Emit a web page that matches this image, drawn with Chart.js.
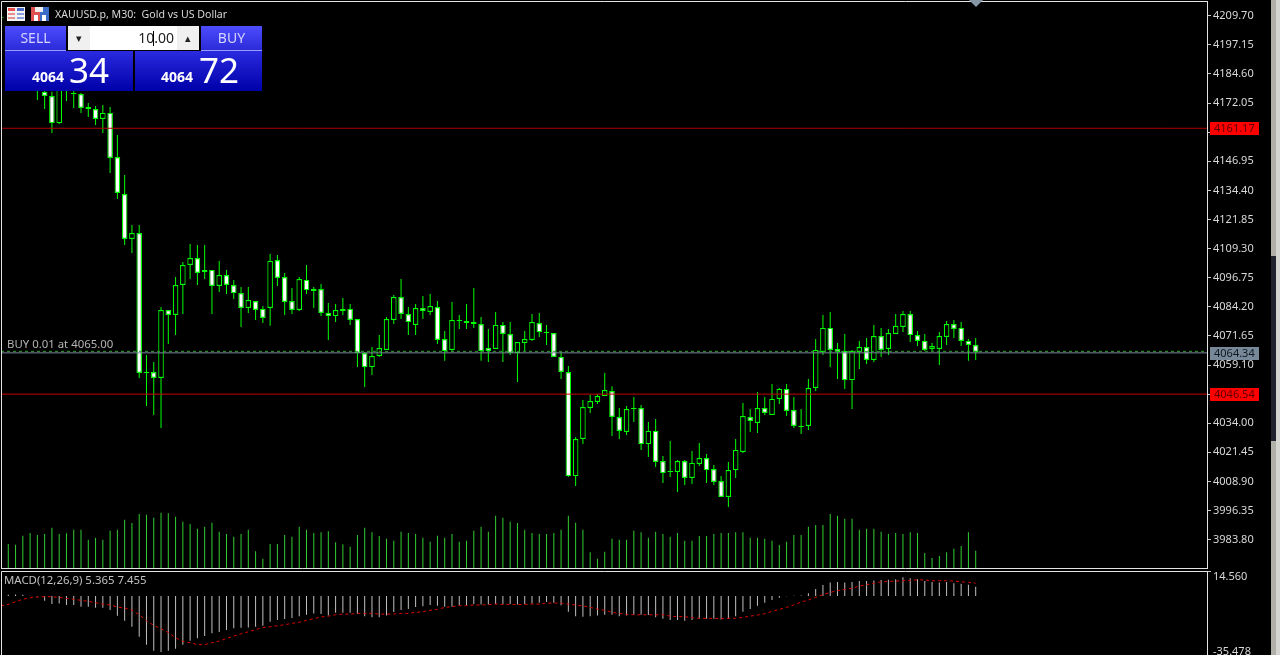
<!DOCTYPE html>
<html>
<head>
<meta charset="utf-8">
<title>XAUUSD.p, M30</title>
<script src="https://cdn.jsdelivr.net/npm/chart.js@4"></script>
<style>
html, body { margin: 0; padding: 0; background: #000; width: 1280px; height: 655px; overflow: hidden; }
body, div { font-family: "Noto Sans", sans-serif; }
canvas { position: absolute; left: 0; display: block; }
#mainChart { top: 0; }
#macdChart { top: 570px; }
.box { position: absolute; box-sizing: border-box; }
.title { left: 55px; top: 6px; font-size: 10.6px; color: #d8d8d8; white-space: pre; line-height: 16px; }
.macd-title { left: 4px; top: 572px; font-size: 11.4px; color: #c0c0c0; white-space: pre; line-height: 16px; }
.top-btn { top: 26px; width: 61px; height: 25px; background: linear-gradient(#4d4dff, #2b2bd8); color: #d4d4ff; font-size: 14px; text-align: center; line-height: 23px; border-bottom: 1px solid #9a9aff; }
.quote { top: 51px; height: 40px; background: linear-gradient(#2a2ae0, #0000a8); color: #fff; }
.quote .small { position: absolute; top: 17px; font-size: 14px; font-weight: bold; line-height: 18px; }
.quote .big { position: absolute; top: 0; font-size: 35px; line-height: 38px; }
.lot { left: 68px; top: 26px; width: 131px; height: 24px; background: #fff; }
.lot .arrow { position: absolute; top: 0; width: 22px; height: 24px; background: #f0f0f0; color: #222; font-size: 11px; line-height: 23px; text-align: center; }
.lot .val { position: absolute; right: 25px; top: 0; font-size: 14px; line-height: 24px; color: #222; }
.lot .caret { position: absolute; left: 85px; top: 5px; width: 1px; height: 15px; background: #000; }
</style>
</head>
<body>
<canvas id="mainChart" width="1280" height="570"></canvas>
<canvas id="macdChart" width="1280" height="87"></canvas>

<svg class="box" style="left:7px;top:7px" width="18" height="14" viewBox="0 0 18 14">
  <rect width="18" height="14" fill="#f4f4f4"/>
  <rect x="1" y="1" width="7" height="3" fill="#e85050"/><rect x="10" y="1" width="7" height="3" fill="#4a6cc8"/>
  <rect x="1" y="6" width="7" height="2" fill="#e89090"/><rect x="10" y="6" width="7" height="2" fill="#88a0dd"/>
  <rect x="1" y="10" width="7" height="2" fill="#e89090"/><rect x="10" y="10" width="7" height="2" fill="#88a0dd"/>
</svg>
<svg class="box" style="left:31px;top:7px" width="18" height="14" viewBox="0 0 18 14">
  <rect width="9" height="14" fill="#e05050"/><rect x="9" width="9" height="14" fill="#3a6cc8"/>
  <rect x="4" y="0" width="8" height="5" fill="#f0f0f0"/><rect x="3" y="8" width="4" height="6" fill="#fff"/><rect x="11" y="8" width="4" height="6" fill="#fff"/>
</svg>
<div class="box title">XAUUSD.p, M30:  Gold vs US Dollar</div>

<div class="box top-btn" style="left:5px">SELL</div>
<div class="box top-btn" style="left:201px">BUY</div>
<div class="box lot">
  <div class="arrow" style="left:0">&#9662;</div>
  <div class="val">10.00</div>
  <div class="caret"></div>
  <div class="arrow" style="right:0">&#9652;</div>
</div>
<div class="box quote" style="left:5px;width:128px">
  <span class="small" style="left:27px">4064</span><span class="big" style="left:64px">34</span>
</div>
<div class="box quote" style="left:135px;width:127px">
  <span class="small" style="left:26px">4064</span><span class="big" style="left:64px">72</span>
</div>
<div class="box macd-title">MACD(12,26,9) 5.365 7.455</div>

<svg class="box" style="left:969px;top:0" width="14" height="8"><polygon points="0,0 14,0 7,7" fill="#8796a6"/></svg>

<div class="box" style="left:1271px;top:0;width:5px;height:655px;background:#b0b0a8"></div>
<div class="box" style="left:1276px;top:0;width:4px;height:655px;background:#d4d4d0"></div>
<div class="box" style="left:1271px;top:256px;width:5px;height:185px;background:#22222e"></div>

<script>
// M30 candles. The first few sit behind the trade panel, so those are guesses
const opens = [
    4209.0, 4192.0, 4188.0, 4190.0, 4185.0, 4183.0, 4176.9, 4175.1, 4163.4, 4178.0,
    4176.4, 4175.9, 4170.3, 4169.5, 4165.2, 4167.8, 4148.8, 4132.8, 4113.4, 4116.0,
    4056.1, 4056.1, 4053.5, 4082.8, 4080.7, 4093.6, 4102.2, 4105.2, 4100.1, 4100.1,
    4093.2, 4097.9, 4093.6, 4090.1, 4083.7, 4086.7, 4083.3, 4083.7, 4104.4, 4097.0,
    4086.7, 4082.8, 4095.8, 4091.9, 4091.9, 4081.5, 4080.2, 4083.3, 4083.3, 4078.9,
    4064.3, 4058.2, 4063.0, 4065.6, 4078.5, 4088.4, 4081.1, 4076.4, 4083.7, 4082.0,
    4084.1, 4070.3, 4065.6, 4078.5, 4078.1, 4077.6, 4076.8, 4066.4, 4066.0, 4076.4,
    4072.5, 4064.3, 4068.6, 4069.9, 4077.2, 4073.3, 4072.9, 4062.6, 4056.1, 4011.2,
    4027.2, 4040.6, 4043.2, 4045.7, 4047.9, 4036.7, 4030.2, 4040.6, 4040.6, 4025.0,
    4030.7, 4017.7, 4013.4, 4013.0, 4017.7, 4010.4, 4016.4, 4019.0, 4014.3, 4009.1,
    4002.2, 4013.8, 4021.6, 4036.7, 4034.1, 4040.6, 4037.6, 4044.5, 4048.8, 4039.7,
    4032.8, 4032.8, 4049.2, 4064.7, 4075.1, 4066.0, 4065.1, 4052.6, 4064.7, 4066.9,
    4061.3, 4071.6, 4066.0, 4072.5, 4075.5, 4081.1, 4072.0, 4069.5, 4066.0, 4066.0,
    4071.2, 4076.8, 4075.1, 4069.5, 4067.7
];
const highs = [
    4210.9, 4196.0, 4193.0, 4194.0, 4190.0, 4186.0, 4182.0, 4176.9, 4181.0, 4184.0,
    4178.0, 4176.4, 4172.1, 4170.8, 4171.2, 4170.3, 4158.3, 4141.0, 4119.5, 4119.5,
    4063.4, 4060.4, 4084.1, 4082.8, 4097.0, 4103.5, 4111.3, 4110.8, 4110.8, 4100.1,
    4104.0, 4100.1, 4095.8, 4092.7, 4092.7, 4086.7, 4084.5, 4107.0, 4106.5, 4098.8,
    4092.3, 4097.0, 4102.2, 4092.7, 4094.0, 4085.8, 4085.4, 4088.0, 4085.4, 4078.9,
    4064.7, 4066.9, 4072.0, 4079.8, 4089.3, 4096.2, 4084.1, 4085.4, 4088.9, 4089.7,
    4086.7, 4073.8, 4086.3, 4080.7, 4085.4, 4092.3, 4079.8, 4074.6, 4082.0, 4077.6,
    4077.6, 4069.0, 4073.8, 4081.1, 4081.5, 4076.4, 4072.9, 4064.7, 4058.7, 4028.1,
    4044.0, 4046.2, 4046.6, 4055.7, 4050.0, 4040.6, 4041.4, 4045.3, 4041.9, 4034.5,
    4035.8, 4019.9, 4026.3, 4018.2, 4018.2, 4022.0, 4025.5, 4020.7, 4016.0, 4011.2,
    4017.3, 4027.2, 4042.7, 4040.1, 4047.5, 4045.3, 4050.9, 4049.2, 4050.9, 4045.3,
    4040.1, 4053.1, 4070.3, 4080.7, 4082.0, 4068.6, 4072.5, 4065.6, 4069.5, 4070.8,
    4076.4, 4075.1, 4074.6, 4081.1, 4082.4, 4082.4, 4073.8, 4072.5, 4068.6, 4073.3,
    4078.1, 4078.5, 4077.6, 4070.3, 4070.8
];
const lows = [
    4206.6, 4186.0, 4184.0, 4183.0, 4181.0, 4173.4, 4169.5, 4159.1, 4163.0, 4172.9,
    4169.9, 4167.8, 4166.0, 4162.6, 4159.1, 4141.9, 4130.7, 4110.8, 4107.4, 4053.5,
    4041.4, 4037.6, 4032.0, 4068.2, 4072.0, 4081.1, 4096.2, 4093.6, 4096.2, 4081.1,
    4090.6, 4089.7, 4087.6, 4075.5, 4081.5, 4078.5, 4077.2, 4076.0, 4093.2, 4080.7,
    4081.1, 4082.4, 4089.7, 4083.7, 4080.2, 4069.9, 4077.6, 4080.7, 4076.4, 4058.2,
    4049.6, 4054.8, 4062.6, 4065.6, 4076.8, 4078.9, 4072.0, 4072.0, 4078.9, 4080.7,
    4068.2, 4060.9, 4064.7, 4074.6, 4074.6, 4075.1, 4060.9, 4060.4, 4066.0, 4060.4,
    4063.4, 4051.8, 4065.1, 4069.5, 4071.2, 4067.7, 4062.6, 4053.1, 4010.8, 4006.9,
    4025.0, 4038.4, 4042.3, 4045.7, 4028.5, 4027.2, 4028.9, 4034.5, 4022.5, 4019.4,
    4015.1, 4008.2, 4010.8, 4004.4, 4007.4, 4007.8, 4015.6, 4008.2, 4007.4, 4002.2,
    3997.9, 4010.4, 4021.2, 4030.2, 4029.8, 4037.6, 4037.6, 4042.3, 4037.1, 4032.0,
    4029.4, 4031.1, 4047.9, 4063.4, 4058.2, 4053.1, 4048.8, 4040.1, 4057.4, 4059.5,
    4060.4, 4062.6, 4063.4, 4072.5, 4073.3, 4069.0, 4067.3, 4065.1, 4065.1, 4059.1,
    4067.7, 4070.8, 4067.3, 4060.9, 4061.3
];
const closes = [
    4208.6, 4188.0, 4190.0, 4185.0, 4183.0, 4180.0, 4175.1, 4163.4, 4178.0, 4181.0,
    4175.9, 4169.9, 4169.5, 4165.2, 4167.8, 4148.4, 4133.3, 4113.4, 4116.0, 4055.7,
    4055.7, 4053.5, 4082.8, 4080.7, 4093.6, 4102.2, 4105.2, 4098.8, 4099.2, 4093.2,
    4097.9, 4093.6, 4090.1, 4083.7, 4087.1, 4082.8, 4079.4, 4104.0, 4096.6, 4086.3,
    4082.8, 4096.2, 4091.4, 4091.0, 4081.5, 4080.2, 4082.8, 4082.4, 4078.5, 4064.3,
    4058.2, 4063.0, 4066.4, 4078.9, 4088.4, 4081.1, 4077.6, 4083.7, 4082.4, 4084.5,
    4069.9, 4065.1, 4078.5, 4078.1, 4077.2, 4076.8, 4065.1, 4065.1, 4076.4, 4072.5,
    4064.3, 4069.0, 4070.3, 4077.6, 4073.3, 4072.9, 4062.6, 4056.1, 4011.2, 4027.2,
    4041.0, 4043.6, 4045.7, 4048.3, 4036.7, 4030.7, 4040.1, 4040.1, 4025.0, 4030.7,
    4017.3, 4012.5, 4013.0, 4017.7, 4010.4, 4016.9, 4019.0, 4013.8, 4008.7, 4002.2,
    4013.8, 4022.5, 4037.1, 4035.0, 4040.6, 4038.4, 4044.5, 4048.8, 4039.3, 4032.8,
    4032.4, 4049.2, 4065.6, 4075.1, 4065.6, 4064.7, 4052.6, 4065.1, 4066.9, 4061.3,
    4071.6, 4065.6, 4072.9, 4076.0, 4081.1, 4072.0, 4069.5, 4065.6, 4067.3, 4071.6,
    4076.8, 4074.6, 4069.5, 4067.7, 4064.7
];
const volumes = [
    null, 720, 700, 970, 1050, 990, 1020, 1210, 1020, 1040,
    1150, 1150, 850, 910, 850, 1120, 1150, 1450, 1350, 1620,
    1600, 1510, 1660, 1640, 1540, 1390, 1320, 1180, 1240, 1360,
    1090, 1020, 940, 1020, 1150, 500, 280, 720, 720, 990,
    940, 1240, 1150, 1050, 1070, 1100, 770, 710, 640, 990,
    1210, 1070, 960, 880, 820, 1090, 1050, 1020, 910, 790,
    970, 910, 1020, 790, 820, 1120, 1240, 1090, 1570, 1510,
    1390, 1350, 1150, 1050, 1020, 1020, 1050, 1150, 1570, 1360,
    1150, 470, 280, 490, 880, 850, 850, 1120, 1070, 910,
    1090, 1020, 940, 1050, 820, 820, 960, 960, 1020, 1050,
    1050, 1070, 1070, 910, 910, 880, 820, 690, 790, 990,
    990, 1240, 1290, 1290, 1620, 1570, 1480, 1480, 1150, 1180,
    1180, 1090, 1020, 1050, 1020, 1070, 1050, 450, 300, 360,
    470, 580, 660, 1070, 520
];
const macdHist = [
    null, 0.8, 0.9, 0.7, 0.1, -0.3, -2.7, -4.7, -4.3, -5.2,
    -5.2, -6.2, -6.2, -6.8, -6.8, -8.2, -11.5, -14.4, -17.9, -23.7,
    -28.3, -31.8, -32.6, -31.8, -30.7, -28.3, -26.0, -24.5, -23.3, -21.7,
    -21.0, -19.8, -18.8, -18.4, -18.3, -17.9, -17.3, -15.0, -14.0, -13.4,
    -12.8, -11.7, -10.9, -10.1, -10.5, -11.3, -9.7, -9.7, -9.7, -10.5,
    -11.7, -12.4, -12.4, -11.3, -9.3, -8.2, -7.6, -6.4, -6.0, -5.2,
    -5.6, -6.2, -6.2, -5.4, -5.4, -4.7, -5.0, -5.0, -4.7, -4.7,
    -4.7, -5.0, -4.7, -4.3, -3.9, -3.5, -3.9, -5.4, -9.1, -11.7,
    -12.0, -11.7, -11.3, -10.9, -10.9, -11.7, -11.3, -10.9, -10.9, -11.1,
    -12.4, -13.2, -14.0, -14.0, -14.4, -14.0, -13.2, -13.2, -13.2, -13.6,
    -13.2, -11.7, -9.1, -7.6, -5.6, -3.9, -2.3, -1.0, -0.1, 0.1,
    0.3, 1.6, 4.1, 6.4, 7.8, 8.2, 7.8, 8.2, 8.7, 8.7,
    9.1, 9.3, 9.5, 9.7, 10.9, 10.3, 9.7, 8.7, 8.2, 7.8,
    8.2, 7.4, 7.2, 6.6, 5.365
];
const macdSignal = [
    -5.7, -4.9, -3.3, -1.9, -1.0, -0.6, -0.4, -0.4, -0.8, -1.4,
    -1.9, -2.5, -3.1, -3.9, -4.7, -5.2, -6.4, -7.0, -8.2, -10.9,
    -14.4, -17.1, -19.0, -21.2, -24.3, -26.4, -27.2, -28.3, -28.3, -27.2,
    -26.2, -24.7, -23.3, -22.0, -20.8, -19.6, -18.4, -17.9, -17.3, -16.7,
    -15.9, -15.3, -14.2, -13.2, -12.2, -11.7, -10.9, -10.5, -10.5, -10.1,
    -10.1, -10.1, -10.5, -10.5, -10.5, -10.1, -10.1, -9.5, -9.1, -8.3,
    -7.8, -6.6, -6.2, -5.6, -5.6, -5.2, -5.2, -5.0, -4.7, -4.9,
    -4.9, -4.9, -4.9, -4.7, -4.7, -4.1, -4.1, -4.1, -4.7, -5.2,
    -5.8, -6.6, -7.6, -8.3, -9.5, -10.1, -10.7, -10.9, -10.9, -10.9,
    -10.9, -10.9, -11.7, -12.0, -12.0, -12.6, -13.0, -13.0, -13.0, -13.2,
    -13.0, -13.0, -12.4, -11.7, -11.1, -10.3, -8.9, -7.8, -6.6, -5.2,
    -3.5, -2.3, -0.8, 0.8, 2.1, 3.1, 3.9, 4.5, 5.8, 6.6,
    7.4, 8.2, 8.5, 8.7, 8.9, 9.1, 9.5, 9.3, 8.9, 8.9,
    8.9, 8.7, 8.3, 8.0, 7.455
];
const priceTicks = [4209.70, 4197.15, 4184.60, 4172.05, 4159.50, 4146.95, 4134.40, 4121.85, 4109.30, 4096.75,
    4084.20, 4071.65, 4059.10, 4046.55, 4034.00, 4021.45, 4008.90, 3996.35, 3983.80];
const macdTicks = [14.56, -35.478];

const stopLine = 4161.17;
const targetLine = 4046.54;
const buyLine = 4065.00;
const bidLine = 4064.34;

const bars = opens.map((_, i) => i);
const LAST_SLOT = 165.8;
const AXIS_FONT = { family: '"Noto Sans", sans-serif', size: 11 };
const FRAME = '#e4e4e4';

function flatLine(value, color, extra) {
    return Object.assign({
        type: 'line',
        data: [{ x: 0, y: value }, { x: LAST_SLOT, y: value }],
        yAxisID: 'y',
        borderColor: color,
        borderWidth: 1,
        pointRadius: 0,
        order: 1
    }, extra);
}

// frame around the plot, right side comes from the axis border
const framePlugin = {
    id: 'frame',
    afterDraw(chart) {
        const { ctx, chartArea: a } = chart;
        ctx.save();
        ctx.strokeStyle = FRAME;
        ctx.lineWidth = 1;
        ctx.beginPath();
        ctx.moveTo(a.left + 0.5, a.bottom + 0.5);
        ctx.lineTo(a.left + 0.5, a.top + 0.5);
        ctx.lineTo(a.right, a.top + 0.5);
        if (chart.canvas.id === 'mainChart') {
            ctx.moveTo(a.left, a.bottom + 0.5);
            ctx.lineTo(a.right, a.bottom + 0.5);
        }
        ctx.stroke();
        ctx.restore();
    }
};

function priceTag(chart, value, bg, fg) {
    const { ctx } = chart;
    const y = chart.scales.y.getPixelForValue(value);
    ctx.fillStyle = bg;
    ctx.fillRect(1210, Math.round(y) - 6, 49, 13);
    ctx.fillStyle = fg;
    ctx.textBaseline = 'middle';
    ctx.textAlign = 'left';
    ctx.fillText(value.toFixed(2), 1214, Math.round(y) + 0.5);
}

const mainLabels = {
    id: 'mainLabels',
    afterDraw(chart) {
        const { ctx } = chart;
        ctx.save();
        ctx.font = '11px "Noto Sans", sans-serif';
        priceTag(chart, stopLine, '#ff0000', '#5a0000');
        priceTag(chart, targetLine, '#ff0000', '#5a0000');
        priceTag(chart, bidLine, '#778899', '#101820');
        ctx.font = '11.4px "Noto Sans", sans-serif';
        ctx.fillStyle = '#b4b4b4';
        ctx.textAlign = 'left';
        ctx.textBaseline = 'middle';
        ctx.fillText('BUY 0.01 at 4065.00', 7, chart.scales.y.getPixelForValue(buyLine) - 6.5);
        ctx.restore();
    }
};

const macdLabels = {
    id: 'macdLabels',
    afterDraw(chart) {
        const { ctx } = chart;
        const y = chart.scales.y;
        ctx.save();
        ctx.font = '11px "Noto Sans", sans-serif';
        ctx.fillStyle = '#d8d8d8';
        ctx.textAlign = 'left';
        ctx.textBaseline = 'middle';
        ctx.fillText(macdTicks[0].toFixed(3), 1213, y.getPixelForValue(macdTicks[0]) + 6);
        ctx.fillText(macdTicks[1].toFixed(3), 1213, y.getPixelForValue(macdTicks[1]) - 5);
        ctx.restore();
    }
};

new Chart(document.getElementById('mainChart'), {
    type: 'bar',
    data: {
        labels: bars,
        datasets: [
            flatLine(stopLine, '#b00000'),
            flatLine(targetLine, '#c80000'),
            flatLine(buyLine, '#2fa02f', { borderDash: [3, 3] }),
            flatLine(bidLine, '#778899'),
            {
                // candle bodies: falling = white, rising = hollow
                data: bars.map(i => [opens[i], closes[i]]),
                yAxisID: 'y',
                backgroundColor: bars.map(i => closes[i] < opens[i] ? '#ffffff' : '#000000'),
                borderColor: '#00ff00',
                borderWidth: 1.2,
                borderSkipped: false,
                inflateAmount: 0,
                barThickness: 5.6,
                order: 2
            },
            {
                // wicks
                data: bars.map(i => [lows[i], highs[i]]),
                yAxisID: 'y',
                backgroundColor: '#00ff00',
                borderWidth: 0,
                inflateAmount: 0,
                barThickness: 1,
                order: 3
            },
            {
                data: volumes,
                yAxisID: 'yVol',
                backgroundColor: '#32cd32',
                borderWidth: 0,
                inflateAmount: 0,
                barThickness: 1,
                order: 4
            }
        ]
    },
    options: {
        responsive: false,
        animation: false,
        events: [],
        layout: { padding: { left: 1, top: 1, right: 0, bottom: 2 } },
        datasets: { bar: { grouped: false } },
        plugins: { legend: { display: false }, tooltip: { enabled: false } },
        scales: {
            x: { type: 'linear', min: 0, max: LAST_SLOT, display: false, offset: false },
            y: {
                position: 'right',
                min: 3971.59,
                max: 4216.04,
                afterBuildTicks: scale => { scale.ticks = priceTicks.map(v => ({ value: v })); },
                afterFit: scale => {
                    scale.width = 73;
                    scale.paddingTop = 0;
                    scale.paddingBottom = 0;
                },
                ticks: {
                    autoSkip: false,
                    color: '#d8d8d8',
                    font: AXIS_FONT,
                    padding: 2,
                    callback: v => v.toFixed(2)
                },
                grid: { drawOnChartArea: false, color: '#c8c8c8', tickLength: 4 },
                border: { display: true, color: FRAME }
            },
            yVol: { position: 'left', min: 0, max: 17010, display: false }
        }
    },
    plugins: [framePlugin, mainLabels]
});

new Chart(document.getElementById('macdChart'), {
    type: 'bar',
    data: {
        labels: bars,
        datasets: [
            {
                type: 'line',
                data: macdSignal,
                borderColor: '#e00000',
                borderWidth: 1,
                borderDash: [3, 3],
                pointRadius: 0,
                order: 1
            },
            {
                data: macdHist,
                backgroundColor: '#c0c0c0',
                borderWidth: 0,
                inflateAmount: 0,
                barThickness: 1,
                order: 2
            }
        ]
    },
    options: {
        responsive: false,
        animation: false,
        events: [],
        layout: { padding: { left: 1, top: 1, right: 0, bottom: 0 } },
        plugins: { legend: { display: false }, tooltip: { enabled: false } },
        scales: {
            x: { type: 'linear', min: 0, max: LAST_SLOT, display: false, offset: false },
            y: {
                position: 'right',
                min: macdTicks[1],
                max: macdTicks[0],
                afterBuildTicks: scale => { scale.ticks = [{ value: macdTicks[0] }]; },
                afterFit: scale => { scale.width = 73; },
                ticks: { display: false },
                grid: { drawOnChartArea: false, color: '#c8c8c8', tickLength: 4 },
                border: { display: true, color: FRAME }
            }
        }
    },
    plugins: [framePlugin, macdLabels]
});
</script>
</body>
</html>
